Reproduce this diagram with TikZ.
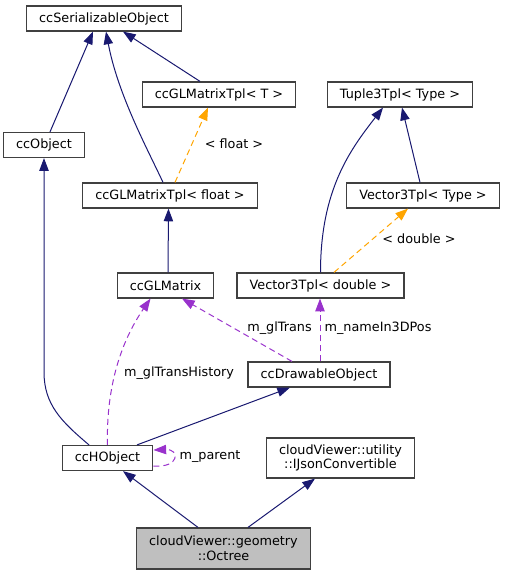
\documentclass[tikz,border=0pt]{standalone}
\usepackage{fontspec}
\setmainfont{DejaVu Sans}
\usetikzlibrary{arrows.meta, calc}

\definecolor{navyedge}{RGB}{25,25,112}
\definecolor{orangeedge}{RGB}{255,165,0}
\definecolor{purpleedge}{RGB}{153,50,204}
\definecolor{boxline}{RGB}{64,64,64}
\definecolor{boxfill}{RGB}{191,191,191}

\begin{document}
\begin{tikzpicture}[x=0.75pt, y=-0.75pt,
    box/.style={draw=boxline, line width=0.9pt, fill=white, inner xsep=9.5pt,
                inner ysep=0pt, minimum height=18.75pt, align=center,
                font=\fontsize{9.6}{11}\selectfont},
    lbl/.style={inner sep=1pt, font=\fontsize{9.6}{11}\selectfont},
    tip/.style={-{Triangle[length=9.5pt, width=7pt]}},
    inherit/.style={tip, draw=navyedge, line width=0.75pt},
    tmpl/.style={tip, draw=orangeedge, line width=0.75pt,
                 dash pattern=on 4.5pt off 3pt},
    member/.style={tip, draw=purpleedge, line width=0.75pt,
                   dash pattern=on 4.5pt off 3pt}]

  \useasboundingbox (0, 0) rectangle (504, 575);

  % classes
  \foreach \name/\x/\y/\txt in {ser/104/18.5/ccSerializableObject,
                                tplT/219/94.5/ccGLMatrixTpl< T >,
                                tuple/400/94.5/Tuple3Tpl< Type >,
                                obj/44/145/ccObject,
                                tplf/170/195.5/ccGLMatrixTpl< float >,
                                vecT/423/195.5/Vector3Tpl< Type >,
                                glm/165.5/285.5/ccGLMatrix,
                                vecd/320.5/285.5/Vector3Tpl< double >,
                                drw/319/374.5/ccDrawableObject,
                                hobj/107.5/458/ccHObject} {
    \node[box] (\name) at (\x, \y) {\txt};
  }
  \node[box, minimum height=30pt] (json) at (340.5, 458)
       {cloudViewer::utility\\::IJsonConvertible};
  \node[box, minimum height=30.75pt, fill=boxfill] (oct) at (223.5, 548.5)
       {cloudViewer::geometry\\::Octree};

  % inheritance
  \draw[inherit] ($(obj.north)+(6, 0)$) -- ($(ser.south)+(-11, 0)$);
  \draw[inherit] ($(tplf.north)+(-7, 0)$) .. controls (148, 150) and (118, 95)
                 .. ($(ser.south)+(2, 0)$);
  \draw[inherit] ($(tplT.north)+(-19, 0)$) -- ($(ser.south)+(19, 0)$);
  \draw[inherit] ($(glm.north)+(2.5, 0)$) -- ($(tplf.south)+(-1.5, 0)$);
  \draw[inherit] ($(hobj.north)+(-18.5, 0)$) .. controls (62, 422) and (44, 405)
                 .. (44, 372) -- (obj.south);
  \draw[inherit] (vecd.north) .. controls (320.5, 190) and (350, 150)
                 .. ($(tuple.south)+(-17, 0)$);
  \draw[inherit] ($(vecT.north)+(-3, 0)$) -- ($(tuple.south)+(2, 0)$);
  \draw[inherit] ($(hobj.north)+(29.5, 0)$) -- ($(drw.south)+(-29, 0)$);
  \draw[inherit] ($(oct.north)+(-25.5, 0)$) -- ($(hobj.south)+(15.5, 0)$);
  \draw[inherit] ($(oct.north)+(24.5, 0)$) -- ($(json.south)+(-25.5, 0)$);

  % templates
  \draw[tmpl] ($(tplf.north)+(5, 0)$) -- ($(tplT.south)+(-11, 0)$);
  \node[lbl] (lfloat) at (234, 144) {< float >};
  \draw[tmpl] ($(vecd.north)+(13.5, 0)$) -- ($(vecT.south)+(-15, 0)$);
  \node[lbl] (ldouble) at (419, 239) {< double >};

  % members
  \draw[member] ($(drw.north)+(-27, 0)$) -- ($(glm.south)+(16.5, 0)$);
  \node[lbl] (lgltrans) at (279.5, 328) {m\_glTrans};
  \draw[member] ($(drw.north)+(1, 0)$) -- ($(vecd.south)+(-0.5, 0)$);
  \node[lbl] (lname) at (378, 328) {m\_nameIn3DPos};
  \draw[member] (hobj.north) .. controls (106, 385) and (122, 340)
                .. ($(glm.south)+(-15, 0)$);
  \node[lbl] (lhist) at (179, 373) {m\_glTransHistory};
  \draw[member] ($(hobj.east)+(0, 8)$) .. controls (180, 468) and (180, 449)
                .. ($(hobj.east)+(0, -8)$);
  \node[lbl] (lparent) at (210, 457) {m\_parent};

\end{tikzpicture}
\end{document}
